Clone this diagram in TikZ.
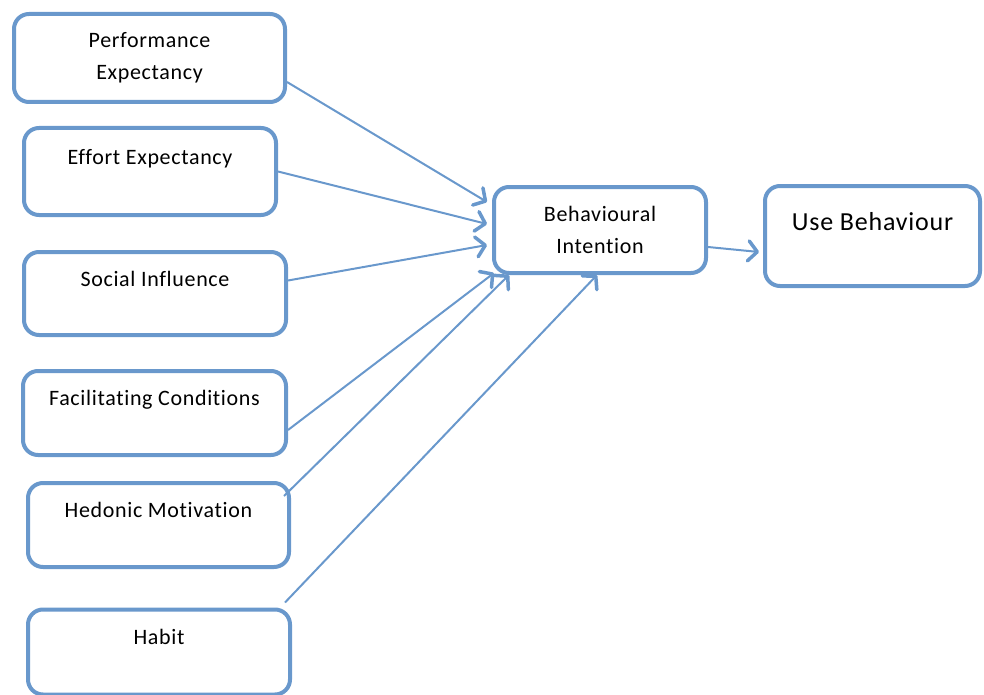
\documentclass[tikz,border=0pt]{standalone}
\usepackage{fontspec}
\setmainfont{Carlito}[LetterSpace=3,Ligatures={NoCommon,NoRare}]
\usetikzlibrary{arrows.meta}
\definecolor{boxblue}{RGB}{105,152,204}
\begin{document}
\begin{tikzpicture}[x=1pt,y=-1pt,
  box/.style={draw=boxblue,line width=4pt,rounded corners=15pt,fill=white,
    align=center,inner sep=0pt,font=\fontsize{22}{32}\selectfont},
  arr/.style={draw=boxblue,line width=2pt,
    -{Straight Barb[length=9pt,width=20pt,line width=3.5pt,round]}}]
\useasboundingbox (0,0) rectangle (984,695);
\node[box,minimum width=271pt,minimum height=88pt] (pe) at (149.5,58) {Performance\\Expectancy};
\node[box,minimum width=252pt,minimum height=87pt] (ee) at (150,171.5) {Effort Expectancy\\[-12pt]\strut};
\node[box,minimum width=262pt,minimum height=83pt] (si) at (155,293.5) {Social Influence\\[-12pt]\strut};
\node[box,minimum width=263pt,minimum height=84pt] (fc) at (154.5,413) {Facilitating Conditions\\[-12pt]\strut};
\node[box,minimum width=261pt,minimum height=84pt] (hm) at (158.5,525) {Hedonic Motivation\\[-12pt]\strut};
\node[box,minimum width=262pt,minimum height=85pt] (hb) at (159,652) {Habit\\[-12pt]\strut};
\node[box,minimum width=212pt,minimum height=86pt] (bi) at (600,230) {Behavioural\\Intention};
\node[box,minimum width=215pt,minimum height=100pt,font=\fontsize{26}{30}\selectfont] (ub) at (872.5,236) {Use Behaviour\\[-10pt]\strut};
\draw[arr] ([yshift=-24pt]pe.east) -- ([xshift=-5pt,yshift=28pt]bi.west);
\draw[arr] (ee.east) -- ([xshift=-5pt,yshift=6pt]bi.west);
\draw[arr] ([yshift=13pt]si.east) -- ([xshift=-5pt,yshift=-15pt]bi.west);
\draw[arr] ([yshift=-17pt]fc.east) -- ([xshift=2pt,yshift=2pt]bi.south west);
\draw[arr] ([xshift=-7pt,yshift=-15pt]hm.north east) -- ([xshift=17pt]bi.south west);
\draw[arr] ([xshift=-7pt,yshift=5pt]hb.north east) -- ([xshift=-3pt]bi.south);
\draw[arr] ([yshift=-17pt]bi.east) -- ([xshift=-4pt,yshift=-16pt]ub.west);
\end{tikzpicture}
\end{document}
